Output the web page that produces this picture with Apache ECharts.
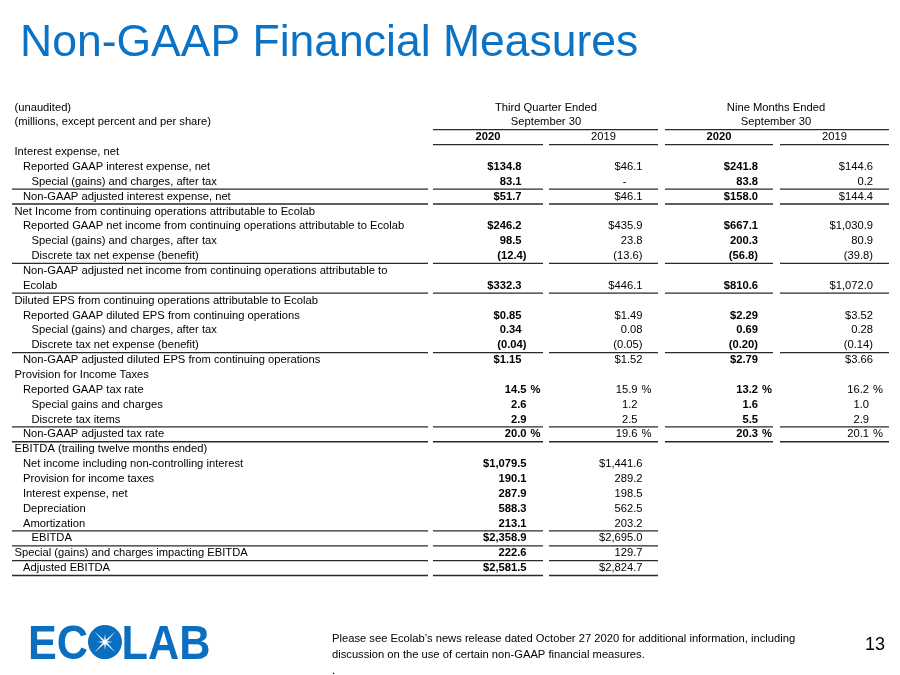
<!DOCTYPE html>
<html><head><meta charset="utf-8">
<script src="https://cdn.jsdelivr.net/npm/echarts@6/dist/echarts.min.js"></script>
<style>html,body{margin:0;padding:0;background:#fff}#c{width:900px;height:675px}</style>
</head><body><div id="c"></div>
<script>
// ---------- data ----------
const notes = ['(unaudited)', '(millions, except percent and per share)'];
const periods = ['Third Quarter Ended', 'Nine Months Ended'];
const periodEnd = ['September 30', 'September 30'];
const years = ['2020', '2019', '2020', '2019'];
const rowLabels = [
  'Interest expense, net',
  'Reported GAAP interest expense, net',
  'Special (gains) and charges, after tax',
  'Non-GAAP adjusted interest expense, net',
  'Net Income from continuing operations attributable to Ecolab',
  'Reported GAAP net income from continuing operations attributable to Ecolab',
  'Special (gains) and charges, after tax',
  'Discrete tax net expense (benefit)',
  'Non-GAAP adjusted net income from continuing operations attributable to',
  'Ecolab',
  'Diluted EPS from continuing operations attributable to Ecolab',
  'Reported GAAP diluted EPS from continuing operations',
  'Special (gains) and charges, after tax',
  'Discrete tax net expense (benefit)',
  'Non-GAAP adjusted diluted EPS from continuing operations',
  'Provision for Income Taxes',
  'Reported GAAP tax rate',
  'Special gains and charges',
  'Discrete tax items',
  'Non-GAAP adjusted tax rate',
  'EBITDA (trailing twelve months ended)',
  'Net income including non-controlling interest',
  'Provision for income taxes',
  'Interest expense, net',
  'Depreciation',
  'Amortization',
  'EBITDA',
  'Special (gains) and charges impacting EBITDA',
  'Adjusted EBITDA'
];
const q3_2020  = [null,134.8,83.1,51.7,null,246.2,98.5,-12.4,null,332.3,null,0.85,0.34,-0.04,1.15,null,14.5,2.6,2.9,20.0,null,1079.5,190.1,287.9,588.3,213.1,2358.9,222.6,2581.5];
const q3_2019  = [null,46.1,0,46.1,null,435.9,23.8,-13.6,null,446.1,null,1.49,0.08,-0.05,1.52,null,15.9,1.2,2.5,19.6,null,1441.6,289.2,198.5,562.5,203.2,2695.0,129.7,2824.7];
const ytd_2020 = [null,241.8,83.8,158.0,null,667.1,200.3,-56.8,null,810.6,null,2.29,0.69,-0.20,2.79,null,13.2,1.6,5.5,20.3,null,null,null,null,null,null,null,null,null];
const ytd_2019 = [null,144.6,0.2,144.4,null,1030.9,80.9,-39.8,null,1072.0,null,3.52,0.28,-0.14,3.66,null,16.2,1.0,2.9,20.1,null,null,null,null,null,null,null,null,null];
const dollarRows = [1,3,5,9,11,14,21,26,28];
const percentRows = [16,19];
const perShareRows = [11,12,13,14];
const taxRows = [16,17,18,19];
const indentLevel = [0,1,2,1,0,1,2,2,1,1,0,1,2,2,1,0,1,2,2,1,0,1,1,1,1,1,2,0,1];
const ruledRows = [2,3,7,9,13,18,19,25,26,27,28];

// ---------- layout / style ----------
const FONT = "'Liberation Sans', Arial, sans-serif";
const FS = 11.2;
const columns = [q3_2020, q3_2019, ytd_2020, ytd_2019];
const colBold = [true, false, true, false];
const colSpan = [[433,543],[549,658],[665,773],[780,889]];
const labelSpan = [12,428];
const periodSpan = [[433,658],[665,889]];
const periodCenter = [546, 776];
const anchorMain = [521.5, 642.5, 758, 873];
const anchorTax = [526.5, 637.5, 758, 869];
const anchorLate = [526.5, 642.5, 758, 873];
const LINE = {stroke:'#2a2a2a', lineWidth:1.3};

function fmt(v, row){
  if (v === null || v === undefined) return '';
  if (v === 0) return '-';
  const d = perShareRows.includes(row) ? 2 : 1;
  let s = Math.abs(v).toLocaleString('en-US',{minimumFractionDigits:d, maximumFractionDigits:d});
  if (dollarRows.includes(row)) s = '$' + s;
  if (v < 0) s = '(' + s + ')';
  return s;
}

const rowsAll = [];
for (let r = -3; r <= 28; r++) rowsAll.push([0, r]);

function txt(text, x, y, align, bold, size){
  return {type:'text', style:{text:text, x:x, y:y, align:align, verticalAlign:'middle',
    font:(bold?'bold ':'') + (size||FS) + 'px ' + FONT, fill:'#000'}};
}
function seg(x1, x2, y){
  return {type:'line', shape:{x1:x1, y1:y, x2:x2, y2:y}, style:LINE};
}

function renderItem(params, api){
  const r = api.value(1);
  const y = api.coord([0, r])[1];
  const yb = api.coord([0, r + 0.5])[1];
  const kids = [];
  if (r === -3 || r === -2){
    kids.push(txt(notes[r + 3], 14.5, y, 'left', false));
    for (let p = 0; p < 2; p++) kids.push(txt(r === -3 ? periods[p] : periodEnd[p], periodCenter[p], y, 'center', false));
    if (r === -2) for (let p = 0; p < 2; p++) kids.push(seg(periodSpan[p][0], periodSpan[p][1], yb));
  } else if (r === -1){
    for (let c = 0; c < 4; c++){
      kids.push(txt(years[c], (colSpan[c][0] + colSpan[c][1]) / 2, y, 'center', colBold[c]));
      kids.push(seg(colSpan[c][0], colSpan[c][1], yb));
    }
  } else {
    kids.push(txt(rowLabels[r], 14.5 + indentLevel[r] * 8.5, y, 'left', false));
    for (let c = 0; c < 4; c++){
      const v = columns[c][r];
      const s = fmt(v, r);
      if (!s) continue;
      let ax = taxRows.includes(r) ? anchorTax[c] : (r >= 20 ? anchorLate[c] : anchorMain[c]);
      if (s === '-') { kids.push(txt(s, ax - 18, y, 'center', colBold[c])); continue; }
      if (c === 0 && v < 0 && r < 20) ax += 5;
      kids.push(txt(s, ax, y, 'right', colBold[c]));
      if (percentRows.includes(r)) kids.push(txt('%', ax + 4, y, 'left', colBold[c]));
    }
    if (ruledRows.includes(r)){
      kids.push(seg(labelSpan[0], labelSpan[1], yb));
      const nc = r >= 20 ? 2 : 4;
      for (let c = 0; c < nc; c++) kids.push(seg(colSpan[c][0], colSpan[c][1], yb));
    }
  }
  return {type:'group', children:kids};
}

// logo sparkle helper (decoration only)
function sparkle(cx, cy){
  const pts = [];
  const n = 8;
  for (let i = 0; i < n * 2; i++){
    const a = Math.PI / 4 + i * Math.PI / n;
    const rr = (i % 2 === 0) ? ((i / 2) % 2 === 0 ? 15 : 8) : 2.2;
    pts.push([cx + rr * Math.cos(a), cy + rr * Math.sin(a)]);
  }
  return pts;
}

const chart = echarts.init(document.getElementById('c'), null, {renderer:'canvas'});
chart.setOption({
  animation:false,
  backgroundColor:'#fff',
  title:{text:'Non-GAAP Financial Measures', left:15, top:16,
    textStyle:{fontFamily:FONT, fontSize:44.5, fontWeight:'normal', color:'#0b73c6'}},
  grid:{left:0, right:0, top:100, bottom:99.5},
  xAxis:{type:'value', min:0, max:900, show:false},
  yAxis:{type:'value', min:-3.5, max:28.5, inverse:true, show:false},
  series:[{type:'custom', data:rowsAll, renderItem:renderItem, clip:false, silent:true}],
  graphic:[
    {type:'text', left:28, top:622, scaleX:0.9,
      style:{text:'ECOLAB', font:'bold 48px ' + FONT, fill:'#0a6fc0'}},
    {type:'circle', shape:{cx:105, cy:642, r:17}, style:{fill:'#0a6fc0'}},
    {type:'polygon', shape:{points:sparkle(105,642)}, style:{fill:'#fff'}},
    {type:'text', left:332, top:631,
      style:{text:"Please see Ecolab\u2019s news release dated October 27 2020 for additional information, including\ndiscussion on the use of certain non-GAAP financial measures.\n.",
        font:'11.2px ' + FONT, fill:'#000', lineHeight:16}},
    {type:'text', right:15, top:636, style:{text:'13', font:'18px ' + FONT, fill:'#000'}}
  ]
});
</script></body></html>
